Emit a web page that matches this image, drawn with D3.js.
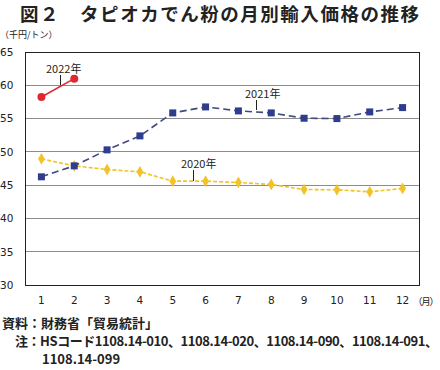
<!DOCTYPE html>
<html>
<head>
<meta charset="utf-8">
<title>タピオカでん粉の月別輸入価格の推移</title>
<script src="https://cdn.jsdelivr.net/npm/d3@7"></script>
<style>
  body { margin: 0; background: #fff; }
  .grid line { stroke: #8c8c8c; stroke-width: 1; shape-rendering: crispEdges; }
  .tick text { font-family: "DejaVu Sans", sans-serif; font-size: 10.5px; fill: #222; }
  .jp { font-family: "Noto Sans CJK JP", sans-serif; fill: #222; }
</style>
</head>
<body>
<script>
// 月
var months = [1, 2, 3, 4, 5, 6, 7, 8, 9, 10, 11, 12];
// 千円/トン
var y2020 = [48.95, 47.9, 47.35, 47.0, 45.6, 45.6, 45.4, 45.1, 44.35, 44.3, 44.0, 44.5];
var y2021 = [46.25, 47.9, 50.3, 52.4, 55.85, 56.75, 56.15, 55.85, 55.05, 55.0, 56.0, 56.65];
var y2022 = [58.25, 61.0];
var yTicks = [30, 35, 40, 45, 50, 55, 60, 65];

var width = 440, height = 370;
var plot = {left: 25, right: 419, top: 52, bottom: 285};

var svg = d3.select("body").append("svg")
  .attr("width", width)
  .attr("height", height);

var x = d3.scaleBand().domain(months).range([plot.left, plot.right]);
var y = d3.scaleLinear().domain([30, 65]).range([plot.bottom, plot.top]);
var cx = function(m){ return x(m) + x.bandwidth() / 2; };

// タイトル
svg.append("text").attr("class", "jp")
  .attr("x", 20).attr("y", 21)
  .attr("textLength", 399)
  .style("font-size", "18.5px").style("font-weight", "bold")
  .text("図２　タピオカでん粉の月別輸入価格の推移");

svg.append("text").attr("class", "jp")
  .attr("x", 0).attr("y", 38)
  .style("font-size", "9px")
  .text("（千円/トン）");

// 目盛線
svg.append("g").attr("class", "grid")
  .selectAll("line").data(yTicks.slice(1, -1)).enter().append("line")
  .attr("x1", plot.left).attr("x2", plot.right)
  .attr("y1", function(d){ return y(d); })
  .attr("y2", function(d){ return y(d); });

svg.append("rect")
  .attr("x", plot.left).attr("y", plot.top)
  .attr("width", plot.right - plot.left).attr("height", plot.bottom - plot.top)
  .attr("fill", "none").attr("stroke", "#222").attr("stroke-width", 1)
  .attr("shape-rendering", "crispEdges");

// y軸
var yAxis = d3.axisLeft(y).tickValues(yTicks).tickSize(0).tickPadding(0);
var gy = svg.append("g").call(yAxis);
gy.select(".domain").remove();
gy.selectAll("text").attr("text-anchor", "start").attr("x", 0);

// x軸
var xAxis = d3.axisBottom(x).tickSize(0).tickPadding(12);
var gx = svg.append("g").attr("transform", "translate(0," + plot.bottom + ")").call(xAxis);
gx.select(".domain").remove();

svg.append("text").attr("class", "jp")
  .attr("x", 413).attr("y", 305)
  .attr("textLength", 26)
  .style("font-size", "9.5px")
  .text("（月）");

var line = d3.line()
  .x(function(d, i){ return cx(months[i]); })
  .y(function(d){ return y(d); });

// 2020年
svg.append("path").datum(y2020)
  .attr("d", line).attr("fill", "none")
  .attr("stroke", "#f2c229").attr("stroke-width", 1.6)
  .attr("stroke-dasharray", "4,2");
svg.selectAll(".d2020").data(y2020).enter().append("path")
  .attr("class", "d2020")
  .attr("d", d3.symbol(d3.symbolDiamond, 40)())
  .attr("transform", function(d, i){ return "translate(" + cx(months[i]) + "," + y(d) + ")"; })
  .attr("fill", "#f2c229");

// 2021年
svg.append("path").datum(y2021)
  .attr("d", line).attr("fill", "none")
  .attr("stroke", "#3f4b7c").attr("stroke-width", 1.6)
  .attr("stroke-dasharray", "7,4");
svg.selectAll(".s2021").data(y2021).enter().append("rect")
  .attr("class", "s2021")
  .attr("x", function(d, i){ return cx(months[i]) - 3.5; })
  .attr("y", function(d){ return y(d) - 3.5; })
  .attr("width", 7).attr("height", 7)
  .attr("fill", "#2e3d8f");

// 2022年
svg.append("path").datum(y2022)
  .attr("d", line).attr("fill", "none")
  .attr("stroke", "#e0282e").attr("stroke-width", 1.6);
svg.selectAll(".c2022").data(y2022).enter().append("circle")
  .attr("class", "c2022")
  .attr("cx", function(d, i){ return cx(months[i]); })
  .attr("cy", function(d){ return y(d); })
  .attr("r", 4)
  .attr("fill", "#e0282e");

// ラベル
var labels = [
  {t: "2022年", x: 46, y: 73, lx: 60.5, y1: 75, y2: 85},
  {t: "2021年", x: 245, y: 98, lx: 256.5, y1: 100, y2: 110},
  {t: "2020年", x: 181, y: 168, lx: 193.5, y1: 170, y2: 181}
];
labels.forEach(function(l){
  svg.append("text").attr("class", "jp")
    .attr("x", l.x).attr("y", l.y)
    .style("font-size", "11px")
    .text(l.t);
  svg.append("line")
    .attr("x1", l.lx).attr("x2", l.lx).attr("y1", l.y1).attr("y2", l.y2)
    .attr("stroke", "#222").attr("stroke-width", 1);
});

// 注
svg.append("text").attr("class", "jp")
  .attr("x", 2).attr("y", 328)
  .style("font-size", "13px").style("font-weight", "bold")
  .text("資料：財務省「貿易統計」");
svg.append("text").attr("class", "jp")
  .attr("x", 15).attr("y", 346)
  .attr("textLength", 423)
  .style("font-size", "13px").style("font-weight", "bold")
  .text("注：HSコード1108.14-010、1108.14-020、1108.14-090、1108.14-091、");
svg.append("text").attr("class", "jp")
  .attr("x", 42).attr("y", 364)
  .style("font-size", "13px").style("font-weight", "bold")
  .text("1108.14-099");
</script>
</body>
</html>
